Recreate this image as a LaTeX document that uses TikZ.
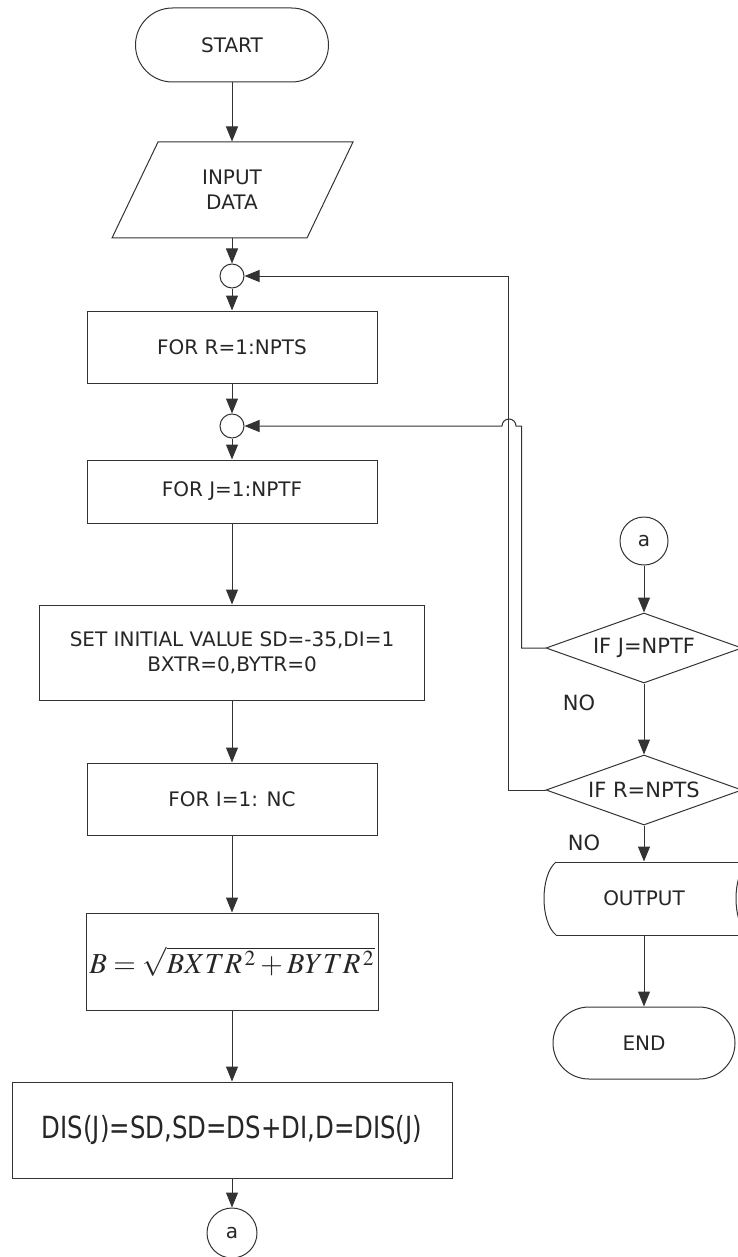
\documentclass[tikz,border=0pt]{standalone}
\usepackage{graphicx}
\usepackage{mathptmx}
\usepackage[no-math]{fontspec}
\setmainfont{DejaVu Sans}
\usetikzlibrary{shapes.misc,shapes.geometric,arrows.meta,calc}
\begin{document}
\begin{tikzpicture}[x=0.5pt,y=-0.5pt,
  line width=0.5pt,
  every node/.style={font=\fontsize{10pt}{12.5pt}\selectfont, text=black!85},
  ln/.style={draw=black!80},
  arr/.style={ln,-{Triangle[length=7.5pt,width=6pt]}},
  term/.style={ln,rounded rectangle,minimum width=#1,minimum height=37pt,inner sep=0pt},
  proc/.style={ln,rectangle,inner sep=0pt,align=center},
  conn/.style={ln,circle,inner sep=0pt,minimum size=#1},
  dec/.style={ln,diamond,inner sep=0pt,aspect=2.8,minimum width=98pt,minimum height=35pt,font=\fontsize{10.5pt}{12.5pt}\selectfont},
  lbl/.style={font=\fontsize{10.5pt}{12.5pt}\selectfont}
]
\useasboundingbox (0,0) rectangle (738,1257);
\clip (0,0) rectangle (738,1257);

% left column
\node[term=96.5pt] (start) at (232,45) {START};
\node[minimum width=120pt,minimum height=48pt,inner sep=0pt,align=center] (input) at (232,190) {INPUT\\DATA};
\draw[ln] (158,142) -- (353,142) -- (307,238) -- (112,238) -- cycle;
\node[conn=12pt] (c1) at (232,276) {};
\node[proc,minimum width=145pt,minimum height=36pt] (forR) at (232,347) {FOR R=1:NPTS};
\node[conn=12pt] (c2) at (232,426) {};
\node[proc,minimum width=145pt,minimum height=31.5pt] (forJ) at (232,491.5) {FOR J=1:NPTF};
\node[proc,minimum width=192.5pt,minimum height=47.5pt] (set) at (232,652.5) {SET INITIAL VALUE SD=-35,DI=1\\BXTR=0,BYTR=0};
\node[proc,minimum width=145pt,minimum height=36pt] (forI) at (232,799) {FOR I=1: NC};
\node[proc,minimum width=146pt,minimum height=48.5pt] (bb) at (232,961.5) {\fontsize{14.5pt}{17pt}\selectfont $B = \sqrt{BXTR^{\,2} + BYTR^{\,2}}$};
\node[proc,minimum width=220pt,minimum height=48pt] (dis) at (232,1130) {\fontsize{12.2pt}{14pt}\selectfont\scalebox{1}[1.25]{DIS(J)=SD,SD=DS+DI,D=DIS(J)}};
\node[conn=25pt] (a1) at (232,1233) {a};

% right column
\node[conn=24pt] (a2) at (644,541) {a};
\node[dec] (d1) at (644,648) {IF J=NPTF};
\node[dec] (d2) at (644,790) {IF R=NPTS};
\node[lbl] (no1) at (579,703) {NO};
\node[lbl] (no2) at (584,843) {NO};
\node[minimum width=90pt,minimum height=36.5pt,inner sep=0pt] (out) at (644,898.5) {OUTPUT};
\draw[ln] (556,862) -- (760,862) (556,935) -- (760,935);
\draw[ln] (556,862) .. controls (540,875) and (540,922) .. (556,935);
\draw[ln] (748,862) .. controls (732,875) and (732,922) .. (748,935);
\node[term=91pt,minimum height=36pt] (end) at (644,1043) {END};

% connectors
\draw[arr] (start.south) -- (input.north);
\draw[arr] (input.south) -- (c1.north);
\draw[arr] (c1.south) -- (forR.north);
\draw[arr] (forR.south) -- (c2.north);
\draw[arr] (c2.south) -- (forJ.north);
\draw[arr] (forJ.south) -- (set.north);
\draw[arr] (set.south) -- (forI.north);
\draw[arr] (forI.south) -- (bb.north);
\draw[arr] (bb.south) -- (dis.north);
\draw[arr] (dis.south) -- (a1.north);
\draw[arr] (a2.south) -- (d1.north);
\draw[arr] (d1.south) -- (d2.north);
\draw[arr] (d2.south) -- (out.north);
\draw[arr] (out.south) -- (end.north);
\draw[arr] (d2.west) -- ++(-37,0) |- (c1.east);
\draw[arr] (d1.west) -- ++(-24,0) |- (516,426) arc[start angle=0,end angle=180,radius=3.5pt] -- (c2.east);
\end{tikzpicture}
\end{document}
